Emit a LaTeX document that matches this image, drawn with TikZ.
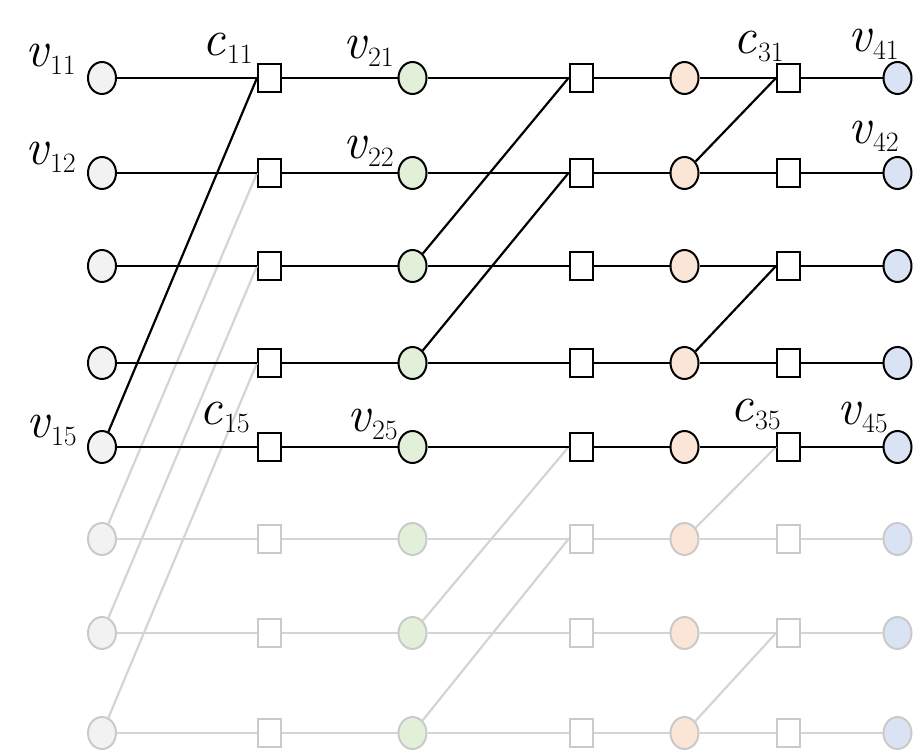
\documentclass[tikz,border=0pt]{standalone}
\usepackage{fontspec}
\usetikzlibrary{shapes.geometric}
\definecolor{cgy}{HTML}{F2F2F2}
\definecolor{cgr}{HTML}{E2F0D9}
\definecolor{cor}{HTML}{FBE5D6}
\definecolor{cbl}{HTML}{DAE3F3}
\definecolor{fade}{HTML}{CACACA}
\definecolor{fadeline}{HTML}{D4D4D4}
\newcommand{\lbl}[2]{{\fontsize{51}{51}\selectfont\itshape #1}\kern2pt\raisebox{-8pt}{\fontsize{28}{28}\selectfont #2}}
\begin{document}
\begin{tikzpicture}[x=1pt,y=-1pt,
  vnode/.style={ellipse, draw=black, line width=2pt, minimum width=28pt, minimum height=32pt, inner sep=0pt},
  cnode/.style={rectangle, draw=black, fill=white, line width=2pt, minimum width=23pt, minimum height=28pt, inner sep=0pt},
  faded/.style={draw=fade},
  edge/.style={line width=2.2pt, draw=black},
  fedge/.style={line width=2.2pt, draw=fadeline},
  lab/.style={inner sep=0pt, anchor=south east, text=black}]
\useasboundingbox (0,0) rectangle (919,751);
% active rows
\foreach \r/\y in {1/78,2/173,3/266,4/363,5/447} {
  \node[vnode, fill=cgy] (v1\r) at (102,\y) {};
  \node[cnode] (c1\r) at (269.5,\y) {};
  \node[vnode, fill=cgr] (v2\r) at (412.5,\y) {};
  \node[cnode] (c2\r) at (581,\y) {};
  \node[vnode, fill=cor] (v3\r) at (684.5,\y) {};
  \node[cnode] (c3\r) at (788.5,\y) {};
  \node[vnode, fill=cbl] (v4\r) at (897.5,\y) {};
}
% faded rows
\foreach \r/\y in {6/539,7/633,8/733} {
  \node[vnode, faded, fill=cgy] (v1\r) at (102,\y) {};
  \node[cnode, faded] (c1\r) at (269.5,\y) {};
  \node[vnode, faded, fill=cgr] (v2\r) at (412.5,\y) {};
  \node[cnode, faded] (c2\r) at (581,\y) {};
  \node[vnode, faded, fill=cor] (v3\r) at (684.5,\y) {};
  \node[cnode, faded] (c3\r) at (788.5,\y) {};
  \node[vnode, faded, fill=cbl] (v4\r) at (897.5,\y) {};
}
% faded edges
\foreach \r in {6,7,8} {
  \draw[fedge] (v1\r) -- (c1\r) -- (v2\r) -- (c2\r) -- (v3\r) -- (c3\r) -- (v4\r);
}
\draw[fedge] (v16) -- (c12.west);
\draw[fedge] (v17) -- (c13.west);
\draw[fedge] (v18) -- (c14.west);
\draw[fedge] (v27) -- (c25.west);
\draw[fedge] (v28) -- (c26.west);
\draw[fedge] (v36) -- (c35.west);
\draw[fedge] (v38) -- (c37.west);
% active edges
\foreach \r in {1,...,5} {
  \draw[edge] (v1\r) -- (c1\r) -- (v2\r) -- (c2\r) -- (v3\r) -- (c3\r) -- (v4\r);
}
\draw[edge] (v15) -- (c11.west);
\draw[edge] (v23) -- (c21.west);
\draw[edge] (v24) -- (c22.west);
\draw[edge] (v32) -- (c31.west);
\draw[edge] (v34) -- (c33.west);
% labels
\node[lab] (lv11) at (76,75) {\lbl{v}{11}};
\node[lab] (lv12) at (76,173) {\lbl{v}{12}};
\node[lab] (lv15) at (77,446) {\lbl{v}{15}};
\node[lab] (lc11) at (253,64) {\lbl{c}{11}};
\node[lab] (lc15) at (250,433) {\lbl{c}{15}};
\node[lab] (lv21) at (394,67) {\lbl{v}{21}};
\node[lab] (lv22) at (394,167) {\lbl{v}{22}};
\node[lab] (lv25) at (398,440) {\lbl{v}{25}};
\node[lab] (lc31) at (784,62) {\lbl{c}{31}};
\node[lab] (lc35) at (781,430) {\lbl{c}{35}};
\node[lab] (lv41) at (899,60) {\lbl{v}{41}};
\node[lab] (lv42) at (899,152) {\lbl{v}{42}};
\node[lab] (lv45) at (888,433) {\lbl{v}{45}};
\end{tikzpicture}
\end{document}
